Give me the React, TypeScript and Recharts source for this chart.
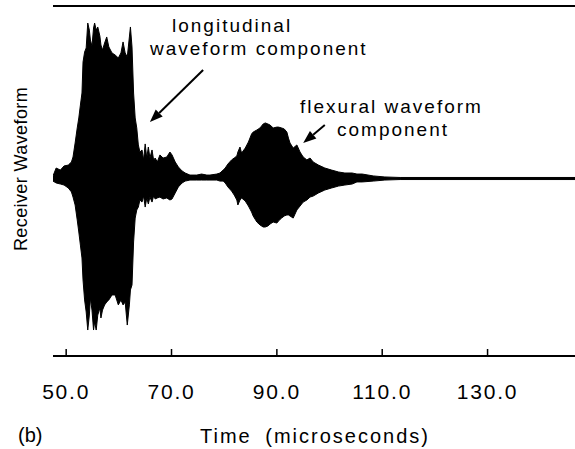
import { ComposedChart, Area, XAxis, YAxis, ReferenceLine } from "recharts";

// time in microseconds, envelope of the receiver waveform (normalised)
const time = [
  47.5, 48.1, 48.9, 49.6, 50.4, 51.0, 51.3, 51.7, 52.1, 52.4,
  52.7, 53.0, 53.2, 53.5, 53.8, 54.1, 54.4, 54.6, 54.9, 55.2,
  55.4, 55.7, 56.0, 56.4, 56.6, 56.9, 57.3, 57.7, 58.1, 58.7,
  59.3, 59.9, 60.4, 60.8, 61.2, 61.6, 62.0, 62.2, 62.5, 62.8,
  63.1, 63.4, 63.7, 64.0, 64.4, 64.7, 65.0, 65.3, 65.6, 65.9,
  66.3, 66.6, 66.9, 67.3, 67.8, 68.4, 69.1, 69.7, 70.1, 70.7,
  71.3, 72.0, 72.6, 73.5, 74.8, 75.7, 76.7, 77.3, 78.6, 79.2,
  79.8, 80.2, 80.7, 81.4, 81.9, 82.4, 82.6, 83.0, 83.3, 84.0,
  84.6, 85.2, 85.5, 86.2, 86.8, 87.4, 87.8, 88.3, 88.7, 89.3,
  90.0, 90.3, 90.9, 91.4, 91.9, 92.2, 92.5, 93.1, 93.8, 94.4,
  95.0, 95.7, 96.3, 96.9, 97.9, 99.1, 100.4, 101.7, 102.9, 104.3,
  105.2, 106.2, 108.3, 110.5, 113.4, 146.6,
];

const upper = [
  0.015, 0.061, 0.049, 0.073, 0.078, 0.096, 0.125, 0.206, 0.294, 0.352,
  0.427, 0.497, 0.677, 0.735, 0.759, 0.904, 0.863, 0.805, 0.77, 0.875,
  0.904, 0.863, 0.881, 0.828, 0.776, 0.747, 0.788, 0.823, 0.765, 0.73,
  0.718, 0.701, 0.73, 0.794, 0.73, 0.706, 0.823, 0.881, 0.765, 0.497,
  0.352, 0.294, 0.195, 0.154, 0.166, 0.108, 0.201, 0.119, 0.183, 0.119,
  0.166, 0.108, 0.119, 0.096, 0.137, 0.119, 0.125, 0.154, 0.137, 0.096,
  0.067, 0.044, 0.032, 0.02, 0.02, 0.026, 0.02, 0.02, 0.026, 0.032,
  0.049, 0.061, 0.084, 0.108, 0.119, 0.131, 0.154, 0.183, 0.148, 0.177,
  0.212, 0.259, 0.27, 0.282, 0.294, 0.317, 0.323, 0.317, 0.311, 0.294,
  0.299, 0.299, 0.294, 0.288, 0.27, 0.235, 0.206, 0.177, 0.195, 0.154,
  0.125, 0.108, 0.119, 0.096, 0.078, 0.061, 0.049, 0.038, 0.032, 0.032,
  0.026, 0.026, 0.015, 0.009, 0.006, 0.006,
];

const lower = [
  -0.015, -0.026, -0.032, -0.038, -0.055, -0.078, -0.108, -0.154, -0.241, -0.311,
  -0.387, -0.462, -0.59, -0.706, -0.776, -0.881, -0.794, -0.695, -0.765, -0.881,
  -0.834, -0.881, -0.794, -0.753, -0.811, -0.765, -0.735, -0.718, -0.706, -0.677,
  -0.677, -0.735, -0.706, -0.735, -0.718, -0.852, -0.735, -0.648, -0.619, -0.369,
  -0.23, -0.183, -0.166, -0.125, -0.137, -0.102, -0.166, -0.113, -0.148, -0.108,
  -0.137, -0.102, -0.119, -0.113, -0.108, -0.119, -0.113, -0.125, -0.119, -0.084,
  -0.049, -0.026, -0.015, -0.009, -0.009, -0.009, -0.009, -0.009, -0.009, -0.015,
  -0.015, -0.026, -0.049, -0.073, -0.096, -0.125, -0.154, -0.125, -0.113, -0.131,
  -0.16, -0.195, -0.218, -0.253, -0.27, -0.282, -0.282, -0.276, -0.265, -0.253,
  -0.259, -0.247, -0.23, -0.218, -0.212, -0.212, -0.218, -0.23, -0.183, -0.16,
  -0.137, -0.125, -0.108, -0.102, -0.084, -0.067, -0.055, -0.044, -0.038, -0.032,
  -0.02, -0.02, -0.015, -0.009, -0.006, -0.006,
];

const xTicks = [50, 70, 90, 110, 130];
const tickLabels = ["50.0", "70.0", "90.0", "110.0", "130.0"];

const data = time.map((t, i) => ({ t, range: [lower[i], upper[i]] }));

const FONT = "'Liberation Sans', Arial, Helvetica, sans-serif";
const Y_MAX = 1.003;

function TimeTick(props: any) {
  const { x, y, payload } = props;
  const label = tickLabels[xTicks.indexOf(payload.value)];
  return (
    <g>
      <line x1={x} x2={x} y1={y} y2={y - 7} stroke="#000" strokeWidth={1.5} />
      <text
        x={x}
        y={y + 43}
        textAnchor="middle"
        fontSize={21}
        letterSpacing={1.8}
        fontFamily={FONT}
        fill="#000"
      >
        {label}
      </text>
    </g>
  );
}

function Arrow(props: any) {
  const { x1, y1, x2, y2 } = props;
  const ang = Math.atan2(y2 - y1, x2 - x1);
  const len = 13;
  const half = 5;
  const bx = x2 - len * Math.cos(ang);
  const by = y2 - len * Math.sin(ang);
  const px = -Math.sin(ang) * half;
  const py = Math.cos(ang) * half;
  return (
    <g>
      <line x1={x1} y1={y1} x2={bx} y2={by} stroke="#000" strokeWidth={2} />
      <polygon
        points={`${x2},${y2} ${bx + px},${by + py} ${bx - px},${by - py}`}
        fill="#000"
      />
    </g>
  );
}

export default function App() {
  const txt = { fontFamily: FONT, fill: "#000" };
  return (
    <div
      style={{
        position: "absolute",
        left: 0,
        top: 0,
        width: 575,
        height: 449,
        background: "#fff",
      }}
    >
      <ComposedChart
        width={575}
        height={449}
        data={data}
        margin={{ top: 6, right: 0, bottom: 0, left: 53 }}
      >
        <XAxis
          dataKey="t"
          type="number"
          domain={[47.5, 146.6]}
          allowDataOverflow
          ticks={xTicks}
          height={93}
          tickSize={0}
          tickMargin={0}
          tickLine={false}
          axisLine={{ stroke: "#000", strokeWidth: 2 }}
          tick={<TimeTick />}
          interval={0}
        />
        <YAxis
          type="number"
          domain={[-1.032, Y_MAX]}
          allowDataOverflow
          width={0}
          tick={false}
          tickLine={false}
          axisLine={{ stroke: "#000", strokeWidth: 2 }}
        />
        <ReferenceLine y={Y_MAX} stroke="#000" strokeWidth={2} ifOverflow="visible" />
        <Area
          type="linear"
          dataKey="range"
          fill="#000"
          fillOpacity={1}
          stroke="#000"
          strokeWidth={1}
          dot={false}
          activeDot={false}
          isAnimationActive={false}
        />
        <ReferenceLine
          segment={[
            { x: 76.0, y: 0.631 },
            { x: 65.9, y: 0.328 },
          ]}
          shape={<Arrow />}
        />
        <ReferenceLine
          segment={[
            { x: 99.1, y: 0.311 },
            { x: 95.0, y: 0.206 },
          ]}
          shape={<Arrow />}
        />
      </ComposedChart>
      <svg
        width={575}
        height={449}
        style={{ position: "absolute", left: 0, top: 0, pointerEvents: "none" }}
      >
        <text {...txt} x={172} y={32} fontSize={19} letterSpacing={2}>
          longitudinal
        </text>
        <text {...txt} x={150} y={55} fontSize={19} letterSpacing={2}>
          waveform component
        </text>
        <text {...txt} x={300} y={113} fontSize={19} letterSpacing={2}>
          flexural waveform
        </text>
        <text {...txt} x={337} y={136} fontSize={19} letterSpacing={2}>
          component
        </text>
        <text
          {...txt}
          fontSize={18}
          letterSpacing={0.4}
          textAnchor="middle"
          transform="translate(27,169) rotate(-90)"
        >
          Receiver Waveform
        </text>
        <text {...txt} x={18} y={442} fontSize={20}>
          (b)
        </text>
        <text
          {...txt}
          x={315}
          y={443}
          fontSize={20}
          letterSpacing={2}
          wordSpacing={6}
          textAnchor="middle"
        >
          Time (microseconds)
        </text>
      </svg>
    </div>
  );
}
